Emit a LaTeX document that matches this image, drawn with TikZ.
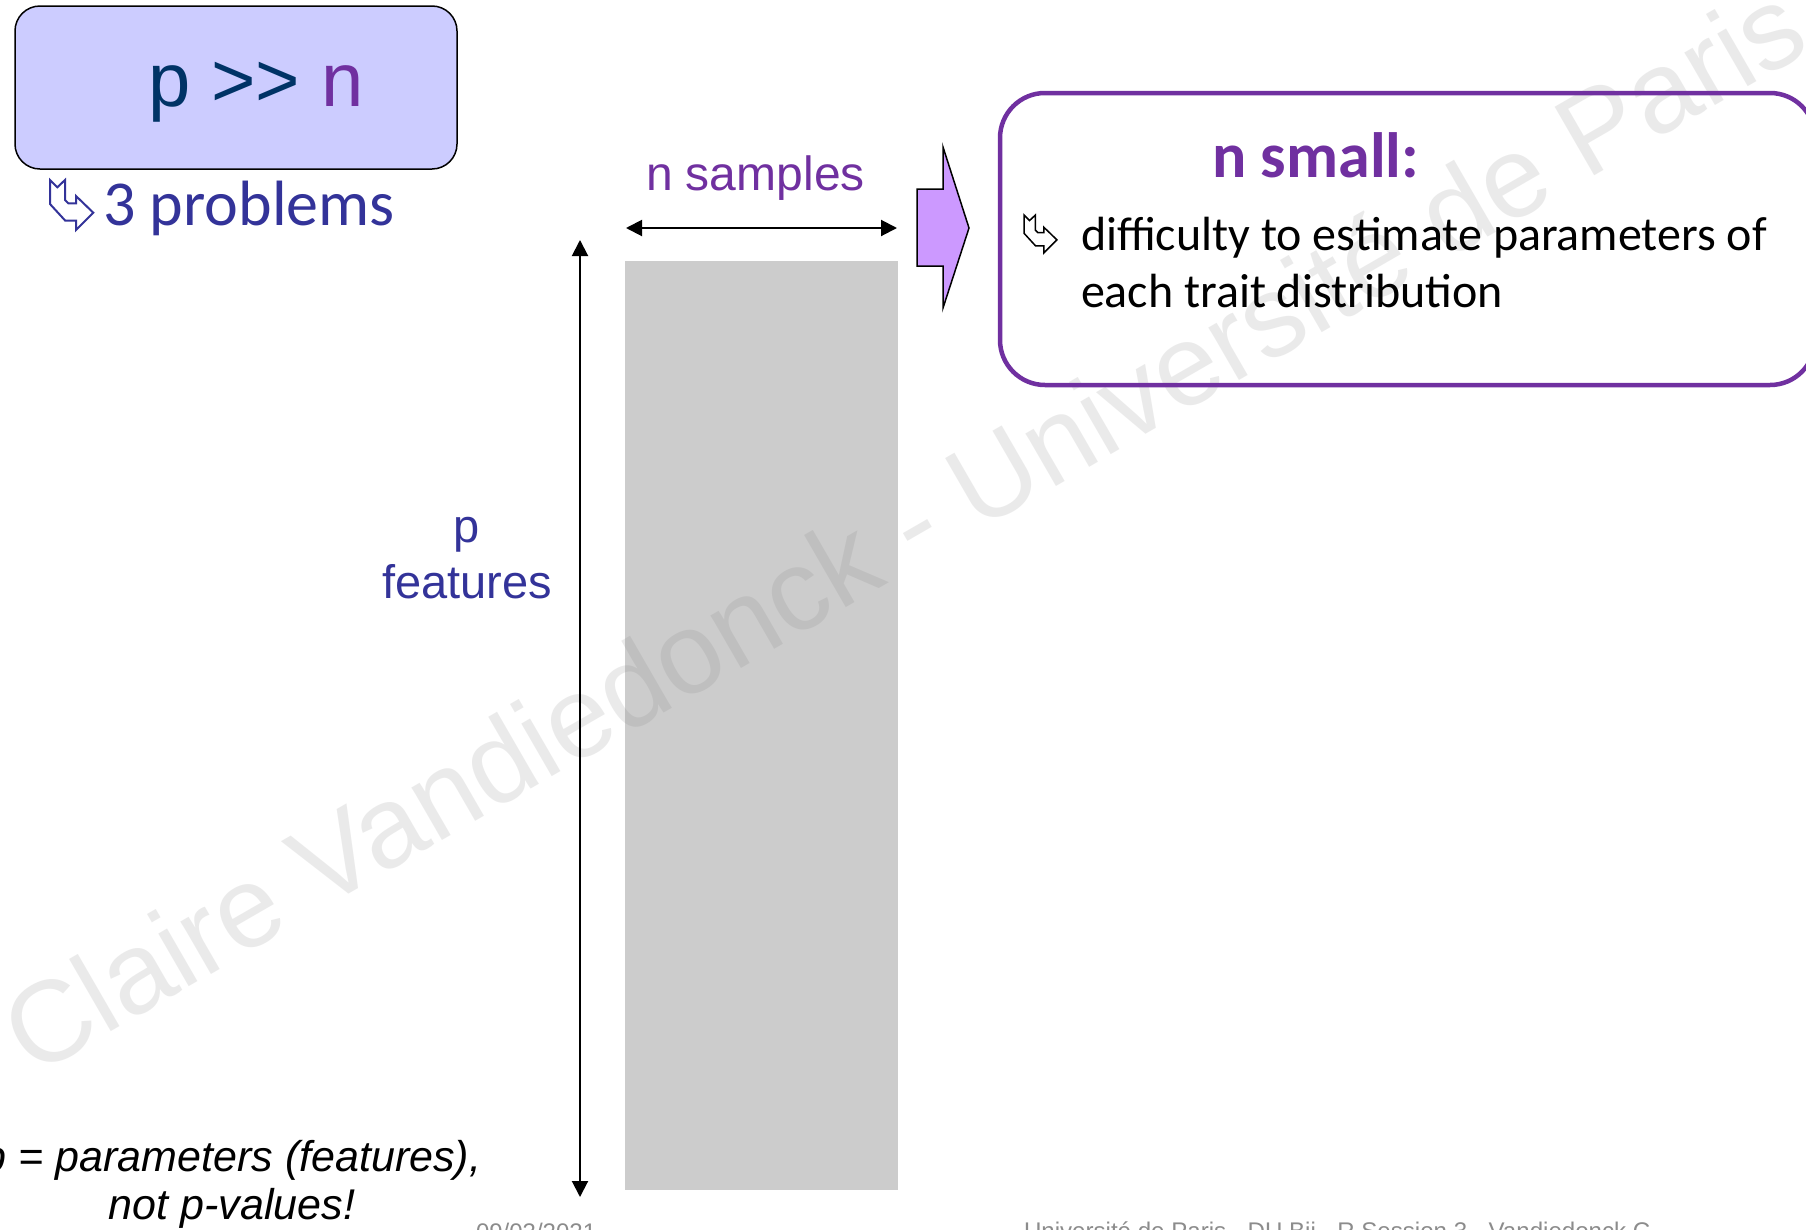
\documentclass[tikz,border=0pt]{standalone}
\usepackage{fontspec}
\setmainfont{Liberation Sans}
\newfontfamily\calibri{Carlito}
\usetikzlibrary{arrows.meta}

\definecolor{navyblue}{HTML}{003366}
\definecolor{npurple}{HTML}{7030A0}
\definecolor{indigo}{HTML}{333399}
\definecolor{boxblue}{HTML}{CCCCFF}
\definecolor{lilac}{HTML}{CC99FF}
\definecolor{matrixgray}{HTML}{CCCCCC}
\definecolor{markgray}{HTML}{777777}
\definecolor{footgray}{HTML}{8C8C8C}

\newcommand\setfs[1]{\fontsize{#1}{#1}\selectfont}

\tikzset{
  txt/.style={inner sep=0pt, outer sep=0pt},
  dimarrow/.style={line width=2pt, {Triangle[length=16pt,width=16pt]}-{Triangle[length=16pt,width=16pt]}},
  hookicon/.pic={
    \draw[pic actions, line join=miter]
      (0,0) -- (7.3,7.3) -- (15,0) -- (15,20) -- (18.3,23.3) -- (26,23.3)
      -- (26,16) -- (43.3,32.7) -- (26,50) -- (26,40.7) -- (15.3,40.7)
      -- (0,24) -- cycle;
  }
}

\begin{document}
\begin{tikzpicture}[x=1pt,y=-1pt]
\useasboundingbox (0,0) rectangle (1806,1229);
\clip (0,0) rectangle (1806,1229);
\fill[white] (0,0) rectangle (1806,1229);

% data matrix: n columns by p rows
\node[txt, fill=matrixgray, minimum width=273pt, minimum height=929pt, anchor=north west] (matrix) at (625,261) {};

% watermark, translucent over the matrix
\node[txt, anchor=base west, rotate=30, text=markgray, text opacity=0.15, font=\setfs{115}] (mark) at (33,1077)
  {Claire Vandiedonck - Université de Paris};

% title box
\node[txt, draw=black, line width=1.5pt, fill=boxblue, rounded corners=25pt,
      minimum width=442pt, minimum height=163pt, anchor=north west] (titlebox) at (15,6) {};
\node[txt, anchor=base west, font=\setfs{76}] (ratio) at (148,106)
  {\textcolor{navyblue}{p >{}> }\textcolor{npurple}{n}};

\pic[draw=indigo, line width=2pt] at (50,180) {hookicon};
\node[txt, anchor=base west, text=indigo, font=\calibri\setfs{64}] (problems) at (103,225) {3 problems};

% dimension arrows
\coordinate (nleft) at (626,228);
\coordinate (nright) at (897,228);
\coordinate (ptop) at (580,240);
\coordinate (pbottom) at (580,1197);
\draw[dimarrow] (nleft) -- (nright);
\draw[dimarrow] (ptop) -- (pbottom);

\node[txt, anchor=base west, text=npurple, font=\setfs{48}] (nsamples) at (646,190) {n samples};
\node[txt, anchor=base, text=indigo, font=\setfs{47}] (pletter) at (467,542) {p};
\node[txt, anchor=base, text=indigo, font=\setfs{47}] (pfeatures) at (467,598) {features};

% block arrow pointing to the remark
\draw[fill=lilac, draw=black, line width=1.5pt, line join=miter]
  (917,189) -- (943,189) -- (943,147) -- (969,228) -- (943,308) -- (943,266) -- (917,266) -- cycle;

% remark box
\node[txt, draw=npurple, line width=4.5pt, rounded corners=45pt,
      minimum width=815pt, minimum height=292pt, anchor=north west] (remark) at (1000,93) {};
\node[txt, anchor=base west, text=npurple, font=\calibri\bfseries\setfs{64}] (nsmall) at (1212,177) {n small:};
\pic[draw=black, line width=1.5pt, scale=0.76] at (1024,215) {hookicon};
\node[txt, anchor=base west, font=\calibri\setfs{48}] (diff1) at (1081,250) {difficulty to estimate parameters of};
\node[txt, anchor=base west, font=\calibri\setfs{48}] (diff2) at (1081,307) {each trait distribution};

% note on p
\node[txt, anchor=base, font=\itshape\setfs{43}] (note1) at (232,1171) {p = parameters (features),};
\node[txt, anchor=base, font=\itshape\setfs{43}] (note2) at (232,1219) {not p-values!};

% footer
\node[txt, anchor=base west, text=footgray, font=\setfs{24}] (date) at (476,1240) {09/03/2021};
\node[txt, anchor=base west, text=footgray, font=\setfs{24.1}] (footer) at (1024,1239)
  {Université de Paris - DU Bii - R Session 3 - Vandiedonck C};
\end{tikzpicture}
\end{document}
